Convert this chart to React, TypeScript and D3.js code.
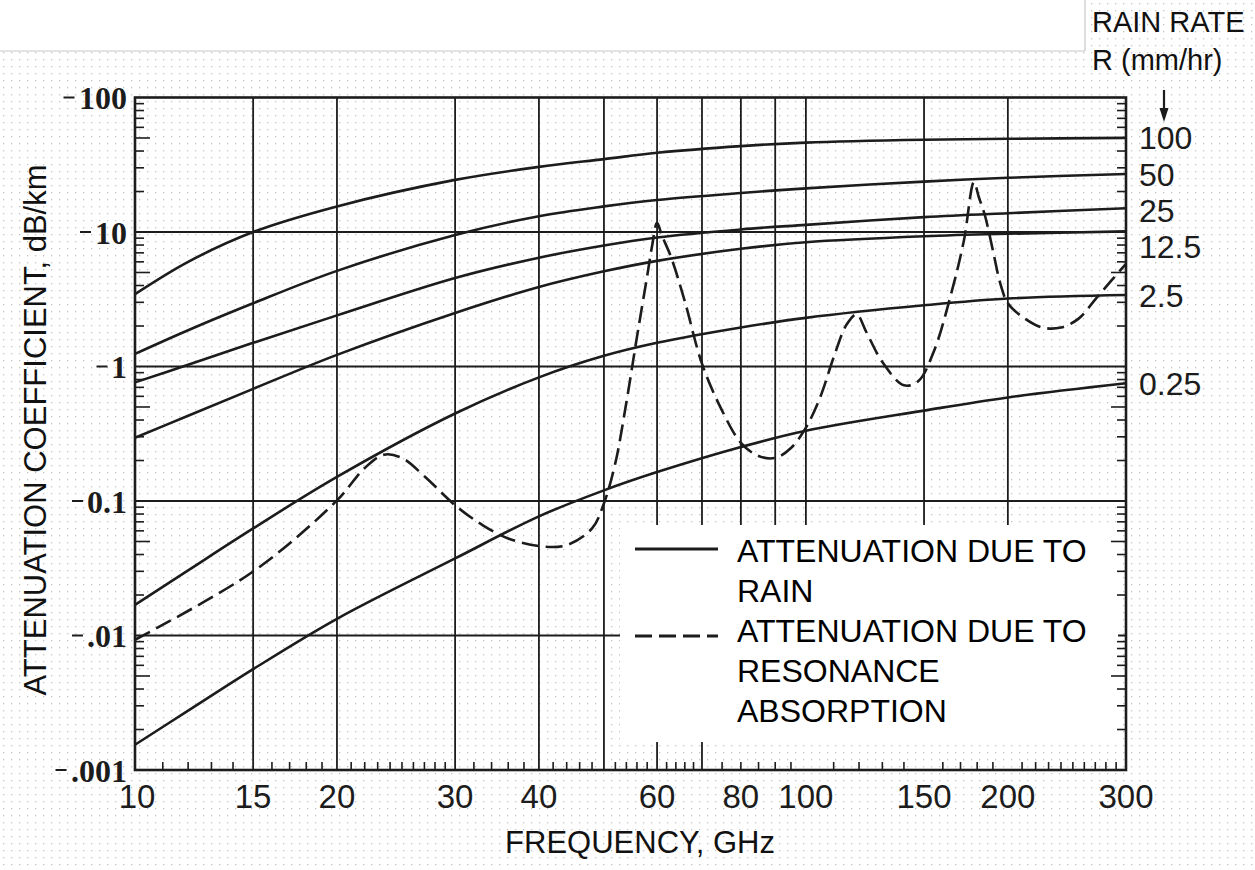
import React from "react";
import * as d3 from "d3";

// ---------- data ----------
const FREQS = [10, 12, 15, 20, 30, 40, 50, 60, 80, 100, 150, 200, 300];
const RAIN_RATE_LABELS = ["100", "50", "25", "12.5", "2.5", "0.25"];
const RAIN_100 = [3.45, 6.0, 10.0, 15.5, 24.4, 30.5, 34.8, 38.8, 43.5, 46.2, 48.5, 49.3, 50.1];
const RAIN_50 = [1.24, 1.86, 2.95, 5.14, 9.5, 13.1, 15.5, 17.3, 19.5, 21.1, 23.7, 25.3, 27.0];
const RAIN_25 = [0.762, 1.03, 1.5, 2.4, 4.55, 6.44, 7.93, 9.1, 10.45, 11.3, 12.9, 13.8, 15.0];
const RAIN_12_5 = [0.295, 0.43, 0.682, 1.22, 2.5, 3.9, 5.1, 6.1, 7.5, 8.4, 9.3, 9.7, 10.1];
const RAIN_2_5 = [0.0169, 0.0305, 0.0625, 0.151, 0.447, 0.83, 1.2, 1.5, 1.95, 2.3, 2.85, 3.2, 3.4];
const RAIN_0_25 = [0.00154, 0.00276, 0.00562, 0.0133, 0.0374, 0.0769, 0.12, 0.164, 0.252, 0.333, 0.47, 0.589, 0.75];
const RAIN_SERIES = [RAIN_100, RAIN_50, RAIN_25, RAIN_12_5, RAIN_2_5, RAIN_0_25];

const RES_FREQS = [10, 15, 20, 22, 23.5, 25, 27, 30, 33, 36, 40, 44, 48, 50, 52, 54, 56, 58, 59, 60, 61, 63, 66, 70, 75, 80, 85, 90, 95, 100, 105, 110, 115, 119, 123, 130, 140, 147, 155, 165, 172, 178, 181, 185, 190, 195, 200, 210, 225, 240, 255, 270, 285, 300];
const RES_VALUES = [0.0093, 0.0299, 0.101, 0.176, 0.221, 0.209, 0.153, 0.093, 0.066, 0.0527, 0.0462, 0.047, 0.0625, 0.096, 0.192, 0.54, 1.66, 4.71, 7.94, 11.7, 9.44, 6.44, 3.05, 1.05, 0.47, 0.271, 0.216, 0.209, 0.248, 0.351, 0.589, 1.17, 2.05, 2.44, 1.81, 1.08, 0.724, 0.776, 1.28, 3.63, 8.65, 23.5, 18.2, 13.1, 7.28, 4.1, 2.95, 2.35, 1.95, 1.95, 2.27, 3.16, 4.33, 5.8];

const X_TICKS = [10, 15, 20, 30, 40, 60, 80, 100, 150, 200, 300];
const X_TICK_LABELS = ["10", "15", "20", "30", "40", "60", "80", "100", "150", "200", "300"];
const X_GRID_FULL = [15, 20, 30, 40, 50, 60, 70];
const X_GRID_SHORT = [80, 90, 100, 150, 200];
const X_MINOR = [11, 12, 13, 14, 16, 17, 18, 19, 21, 22, 23, 24, 25, 26, 27, 28, 29, 32, 34, 36, 38, 42, 44, 46, 48, 52, 54, 56, 58, 62, 64, 66, 68, 75, 80, 85, 90, 95, 110, 120, 130, 140, 160, 170, 180, 190, 210, 220, 230, 240, 250, 260, 270, 280, 290];

const Y_TICKS = [100, 10, 1, 0.1, 0.01, 0.001];
const Y_TICK_LABELS = ["100", "10", "1", "0.1", ".01", ".001"];
const Y_GRID = [10, 1, 0.1, 0.01];
const Y_MINOR_MULT = [2, 3, 4, 5, 6, 7, 8, 9];
const Y_DECADES = [0.001, 0.01, 0.1, 1, 10];

const LEGEND_ITEMS = [
  { dash: "", lines: ["ATTENUATION DUE TO", "RAIN"] },
  { dash: "17,7", lines: ["ATTENUATION DUE TO", "RESONANCE", "ABSORPTION"] },
];

// ---------- layout ----------
const W = 1255;
const H = 870;
const L = 135;
const R = 1126;
const T = 97.5;
const B = 770;
const INK = "#1c1c1c";
const LEG = { x0: 620, x1: 1118, y0: 525, y1: 742 };

export default function App() {
  const x = d3.scaleLog().domain([10, 300]).range([L, R]);
  const y = d3.scaleLog().domain([0.001, 100]).range([B, T]);

  const rainLine = d3
    .line<[number, number]>()
    .x((d) => x(d[0]))
    .y((d) => y(d[1]))
    .curve(d3.curveCatmullRom.alpha(0.5));
  const resLine = d3
    .line<[number, number]>()
    .x((d) => x(d[0]))
    .y((d) => y(d[1]))
    .curve(d3.curveCatmullRom.alpha(0.5));

  // right-hand rain rate labels, pushed apart if they crowd
  const labelYs: number[] = [];
  RAIN_SERIES.forEach((s, i) => {
    let yy = y(s[s.length - 1]);
    if (i > 0) yy = Math.max(yy, labelYs[i - 1] + 36);
    labelYs.push(yy);
  });

  const yMinor: number[] = [];
  Y_DECADES.forEach((d) => Y_MINOR_MULT.forEach((m) => yMinor.push(d * m)));
  const mantissa = (v: number) => Math.round(v / Math.pow(10, Math.floor(Math.log10(v) + 1e-9)));

  const digitW = (s: string) =>
    s.split("").reduce((a, c) => a + (c === "." ? 8 : 16.5), 0);

  return (
    <svg
      width={W}
      height={H}
      style={{ position: "absolute", left: 0, top: 0, background: "#fff" }}
      fontFamily="'Liberation Sans', Arial, sans-serif"
    >
      <defs>
        <pattern id="dots" width="8" height="7" patternUnits="userSpaceOnUse">
          <rect x="3" y="3" width="1.3" height="1.3" fill="#c4c4c4" />
        </pattern>
      </defs>
      <rect x={0} y={0} width={W} height={H} fill="#fff" />
      <rect x={0} y={0} width={W} height={H} fill="url(#dots)" />
      {/* cropped title box */}
      <rect x={0} y={0} width={1085} height={51} fill="#fff" />
      <line x1={0} y1={51} x2={1085} y2={51} stroke="#c8c8c8" strokeWidth={1.2} />
      <line x1={1085} y1={0} x2={1085} y2={51} stroke="#c8c8c8" strokeWidth={1.2} />

      {/* grid */}
      {Y_GRID.map((v) => (
        <line key={"yg" + v} x1={L} x2={R} y1={y(v)} y2={y(v)} stroke={INK} strokeWidth={1.8} />
      ))}
      {X_GRID_FULL.map((f) => (
        <line key={"xg" + f} x1={x(f)} x2={x(f)} y1={T} y2={B} stroke={INK} strokeWidth={1.8} />
      ))}
      {X_GRID_SHORT.map((f) => (
        <line key={"xs" + f} x1={x(f)} x2={x(f)} y1={T} y2={LEG.y0} stroke={INK} strokeWidth={1.8} />
      ))}

      {/* legend background */}
      <rect x={LEG.x0} y={LEG.y0} width={LEG.x1 - LEG.x0} height={LEG.y1 - LEG.y0} fill="#fff" />

      {/* minor ticks */}
      {X_MINOR.map((f) => (
        <line key={"xm" + f} x1={x(f)} x2={x(f)} y1={B} y2={B - 8} stroke={INK} strokeWidth={1.6} />
      ))}
      {yMinor.map((v, i) => {
        const len = mantissa(v) === 5 ? 15 : 9;
        return (
          <g key={"ym" + i}>
            <line x1={L} x2={L + len} y1={y(v)} y2={y(v)} stroke={INK} strokeWidth={1.6} />
            <line x1={R} x2={R - len} y1={y(v)} y2={y(v)} stroke={INK} strokeWidth={1.6} />
          </g>
        );
      })}

      {/* frame */}
      <rect x={L} y={T} width={R - L} height={B - T} fill="none" stroke={INK} strokeWidth={2.6} />

      {/* rain curves */}
      {RAIN_SERIES.map((s, i) => (
        <path
          key={"rain" + i}
          d={rainLine(FREQS.map((f, j) => [f, s[j]] as [number, number])) || ""}
          fill="none"
          stroke={INK}
          strokeWidth={2.6}
        />
      ))}
      {/* resonance absorption */}
      <path
        d={resLine(RES_FREQS.map((f, j) => [f, RES_VALUES[j]] as [number, number])) || ""}
        fill="none"
        stroke={INK}
        strokeWidth={2.6}
        strokeDasharray="17,7"
      />

      {/* y tick labels */}
      {Y_TICKS.map((v, i) => {
        const lab = Y_TICK_LABELS[i];
        const w = digitW(lab);
        return (
          <g key={"yt" + v}>
            <line x1={127 - w - 14} x2={127 - w - 3} y1={y(v)} y2={y(v)} stroke={INK} strokeWidth={2} />
            <text
              x={127}
              y={y(v)}
              dy="0.36em"
              textAnchor="end"
              fontFamily="'Liberation Serif', 'Times New Roman', serif"
              fontWeight="bold"
              fontSize={32}
              fill={INK}
            >
              {lab}
            </text>
          </g>
        );
      })}

      {/* x tick labels */}
      {X_TICKS.map((f, i) => (
        <text key={"xt" + f} x={x(f) + (f === 10 ? 2 : 0)} y={808} textAnchor="middle" fontSize={33} fill={INK}>
          {X_TICK_LABELS[i]}
        </text>
      ))}

      {/* rain rate labels */}
      {RAIN_RATE_LABELS.map((lab, i) => (
        <text key={"rr" + lab} x={1139} y={labelYs[i]} dy="0.36em" fontSize={32} fill={INK}>
          {lab}
        </text>
      ))}
      <text x={1092} y={32} fontSize={29} fill="#111">RAIN RATE</text>
      <text x={1092} y={70} fontSize={29} fill="#111">R (mm/hr)</text>
      <line x1={1164} x2={1164} y1={90} y2={112} stroke={INK} strokeWidth={2.2} />
      <polygon points="1159.5,108 1168.5,108 1164,122" fill={INK} />

      {/* axis titles */}
      <text transform="translate(46,430) rotate(-90)" textAnchor="middle" fontSize={31} fill="#111">
        ATTENUATION COEFFICIENT, dB/km
      </text>
      <text x={640} y={853} textAnchor="middle" fontSize={31} fill="#111">
        FREQUENCY, GHz
      </text>

      {/* legend */}
      {LEGEND_ITEMS.map((item, k) => {
        const base = k === 0 ? 562 : 642;
        const ly = k === 0 ? base - 13 : base - 6;
        return (
          <g key={"leg" + k}>
            <line
              x1={635}
              x2={718}
              y1={ly}
              y2={ly}
              stroke={INK}
              strokeWidth={2.8}
              strokeDasharray={item.dash || undefined}
            />
            {item.lines.map((t, j) => (
              <text key={j} x={737} y={base + j * 40} fontSize={32} fill="#000">
                {t}
              </text>
            ))}
          </g>
        );
      })}
    </svg>
  );
}
